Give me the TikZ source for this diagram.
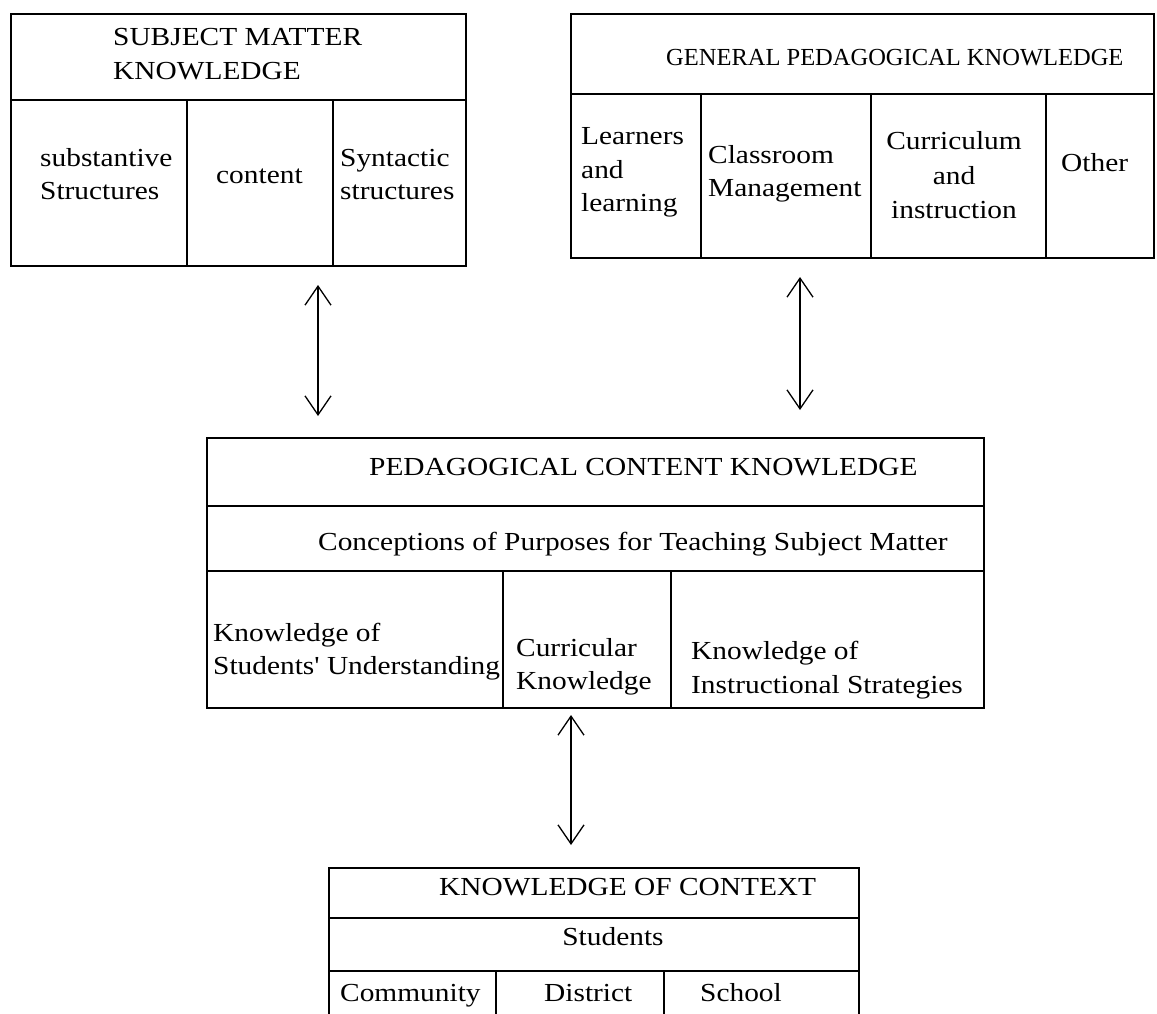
\documentclass[tikz,border=0pt]{standalone}
\usepackage{fontspec}
\setmainfont[FakeStretch=1.13,Ligatures=TeXOff]{Liberation Serif}
\newfontfamily\gpkfont{Liberation Serif}
\usetikzlibrary{arrows.meta}
\begin{document}
\begin{tikzpicture}[x=1pt,y=-1pt,
  cell/.style={draw, line width=1.6pt, inner sep=0pt, anchor=north west},
  txt/.style={anchor=base west, inner sep=0pt, font=\fontsize{26}{34}\selectfont},
  ctxt/.style={anchor=base, inner sep=0pt, font=\fontsize{26}{34}\selectfont},
  link/.style={line width=1.3pt, {Straight Barb[length=19pt,width=26pt,line width=1.3pt]}-{Straight Barb[length=19pt,width=26pt,line width=1.3pt]}}
]
\clip (0,0) rectangle (1157,1013);
\useasboundingbox (0,0) rectangle (1157,1013);

% ---------- Subject matter knowledge ----------
\node[cell, minimum width=455pt, minimum height=86pt] (smkH) at (10,13) {};
\node[cell, minimum width=176pt, minimum height=166pt] (smkA) at (10,99) {};
\node[cell, minimum width=146pt, minimum height=166pt] (smkB) at (186,99) {};
\node[cell, minimum width=133pt, minimum height=166pt] (smkC) at (332,99) {};
\node[txt] (smkT1) at (113,45) {SUBJECT MATTER};
\node[txt] (smkT2) at (113,79) {KNOWLEDGE};
\node[txt] (smkA1) at (40,166) {substantive};
\node[txt] (smkA2) at (40,199) {Structures};
\node[txt] (smkB1) at (216,183) {content};
\node[txt] (smkC1) at (340,166) {Syntactic};
\node[txt] (smkC2) at (340,199) {structures};

% ---------- General pedagogical knowledge ----------
\node[cell, minimum width=583pt, minimum height=80pt] (gpkH) at (570,13) {};
\node[cell, minimum width=130pt, minimum height=164pt] (gpkA) at (570,93) {};
\node[cell, minimum width=170pt, minimum height=164pt] (gpkB) at (700,93) {};
\node[cell, minimum width=175pt, minimum height=164pt] (gpkC) at (870,93) {};
\node[cell, minimum width=108pt, minimum height=164pt] (gpkD) at (1045,93) {};
\node[anchor=base west, inner sep=0pt, font=\gpkfont\fontsize{24.5}{30}\selectfont] (gpkT) at (666,65) {GENERAL PEDAGOGICAL KNOWLEDGE};
\node[txt] (gpkA1) at (581,144) {Learners};
\node[txt] (gpkA2) at (581,178) {and};
\node[txt] (gpkA3) at (581,211) {learning};
\node[txt] (gpkB1) at (708,163) {Classroom};
\node[txt] (gpkB2) at (708,196) {Management};
\node[ctxt] (gpkC1) at (954,149) {Curriculum};
\node[ctxt] (gpkC2) at (954,184) {and};
\node[ctxt] (gpkC3) at (954,218) {instruction};
\node[txt] (gpkD1) at (1061,171) {Other};

% ---------- Pedagogical content knowledge ----------
\node[cell, minimum width=777pt, minimum height=68pt] (pckH) at (206,437) {};
\node[cell, minimum width=777pt, minimum height=65pt] (pckP) at (206,505) {};
\node[cell, minimum width=296pt, minimum height=137pt] (pckA) at (206,570) {};
\node[cell, minimum width=168pt, minimum height=137pt] (pckB) at (502,570) {};
\node[cell, minimum width=313pt, minimum height=137pt] (pckC) at (670,570) {};
\node[txt] (pckT) at (369,475) {PEDAGOGICAL CONTENT KNOWLEDGE};
\node[txt] (pckP1) at (318,550) {Conceptions of Purposes for Teaching Subject Matter};
\node[txt] (pckA1) at (213,641) {Knowledge of};
\node[txt] (pckA2) at (213,674) {Students' Understanding};
\node[txt] (pckB1) at (516,656) {Curricular};
\node[txt] (pckB2) at (516,689) {Knowledge};
\node[txt] (pckC1) at (691,659) {Knowledge of};
\node[txt] (pckC2) at (691,693) {Instructional Strategies};

% ---------- Knowledge of context ----------
\node[cell, minimum width=530pt, minimum height=50pt] (kocH) at (328,867) {};
\node[cell, minimum width=530pt, minimum height=53pt] (kocS) at (328,917) {};
\node[cell, minimum width=167pt, minimum height=80pt] (kocA) at (328,970) {};
\node[cell, minimum width=168pt, minimum height=80pt] (kocB) at (495,970) {};
\node[cell, minimum width=195pt, minimum height=80pt] (kocC) at (663,970) {};
\node[txt] (kocT) at (439,895) {KNOWLEDGE OF CONTEXT};
\node[ctxt] (kocS1) at (613,945) {Students};
\node[txt] (kocA1) at (340,1001) {Community};
\node[txt] (kocB1) at (544,1001) {District};
\node[txt] (kocC1) at (700,1001) {School};

% ---------- connectors ----------
\coordinate (a1t) at (318,285);
\coordinate (a1b) at (318,416);
\coordinate (a2t) at (800,277);
\coordinate (a2b) at (800,410);
\coordinate (a3t) at (571,715);
\coordinate (a3b) at (571,845);
\draw[link] (a1t) -- (a1b);
\draw[link] (a2t) -- (a2b);
\draw[link] (a3t) -- (a3b);
\end{tikzpicture}
\end{document}
